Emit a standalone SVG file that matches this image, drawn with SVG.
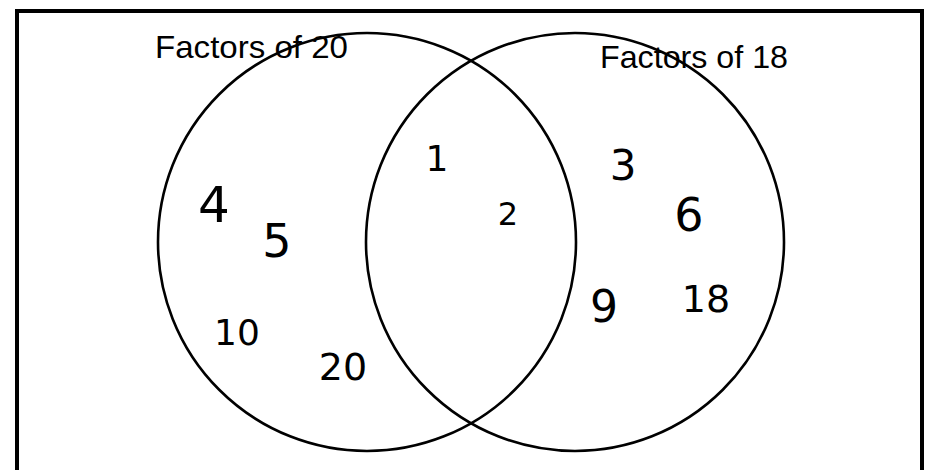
<svg xmlns="http://www.w3.org/2000/svg" width="927" height="470" viewBox="0 0 927 470">
<style>
.frame{fill:none;stroke:#000;stroke-width:4}
.set{fill:none;stroke:#000;stroke-width:2.6}
.title{font-family:"Liberation Sans","DejaVu Sans",sans-serif;font-size:32px;fill:#000}
.num{font-family:"DejaVu Sans","Liberation Sans",sans-serif;fill:#000;text-anchor:middle;font-weight:normal}
</style>
<rect width="927" height="470" fill="#fff"/>
<path class="frame" d="M17,474 V11 H922 V474"/>
<g id="set-factors-20">
<circle class="set" cx="367" cy="242" r="209"/>
<text class="title" x="155" y="58" textLength="193" lengthAdjust="spacingAndGlyphs">Factors of 20</text>
</g>
<g id="set-factors-18">
<circle class="set" cx="575" cy="242" r="209"/>
<text class="title" x="600" y="68" textLength="188" lengthAdjust="spacingAndGlyphs">Factors of 18</text>
</g>
<g id="numbers">
<text class="num" x="214" y="222" font-size="50">4</text>
<text class="num" x="277" y="257" font-size="46">5</text>
<text class="num" x="237" y="345" font-size="36">10</text>
<text class="num" x="343" y="380" font-size="38">20</text>
<text class="num" x="437" y="171" font-size="36">1</text>
<text class="num" x="508" y="225" font-size="32">2</text>
<text class="num" x="623" y="180" font-size="42">3</text>
<text class="num" x="689" y="231" font-size="46">6</text>
<text class="num" x="604" y="322" font-size="44">9</text>
<text class="num" x="706" y="312" font-size="38">18</text>
</g>
<g id="connectors"></g>
</svg>
